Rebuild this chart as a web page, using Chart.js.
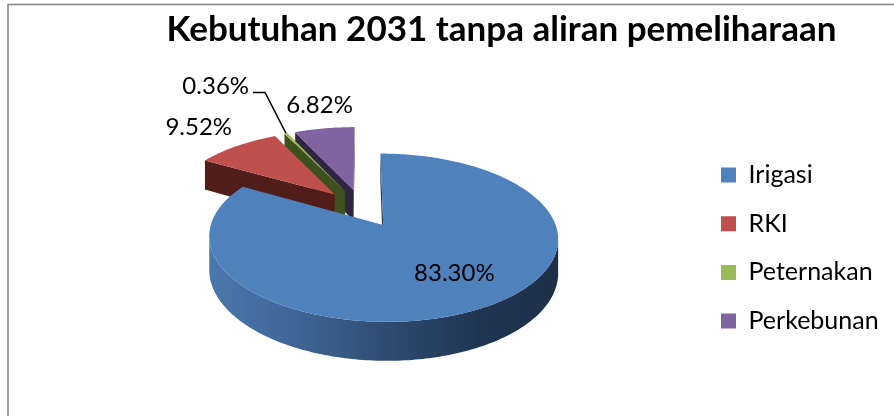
<!DOCTYPE html>
<html>
<head>
<meta charset="utf-8">
<script src="https://cdn.jsdelivr.net/npm/chart.js@4.4.1/dist/chart.umd.min.js"></script>
<style>
  html, body { margin: 0; padding: 0; background: #ffffff; }
  #wrap { width: 894px; height: 416px; position: relative; }
</style>
</head>
<body>
<div id="wrap"><canvas id="c"></canvas></div>
<script>
// ---- data ----
const chartTitle = 'Kebutuhan 2031 tanpa aliran pemeliharaan';
const categories = ['Irigasi', 'RKI', 'Peternakan', 'Perkebunan'];
const shares = [83.30, 9.52, 0.36, 6.82];

// ---- colours ----
const faceColors = ['#4F81BD', '#C0504D', '#9BBB59', '#8064A2'];
const sideColors = ['#1f3350', '#501d1b', '#3e501e', '#302641'];

// ---- 3D look of the pie ----
const TILT = 0.462;         // squash of the pie plane
const PERSPECTIVE = 1135;   // distance used for the perspective shrink
const THICKNESS = 32;       // height of the pie walls
const EXPLODE = 41;         // distance each slice is pulled out
const RADIUS = 167;

// ---- layout ----
const PIE_CENTER_X = 362;
const LEGEND_BOX_X = 721;
const LEGEND_FONT = 25;
const LEGEND_GAP = 23.7;
const VPAD = 58.7;

// label placement: rf = fraction of the radius along the slice middle, dx/dy = pixel nudge
const labelPlacement = [
  { rf: 0.62, dx: 11, dy: 0 },
  { rf: 1.45, dx: 0, dy: 0 },
  { leader: true, rf: 1.0, elbowDx: -21, elbowDy: -41, tail: 12 },
  { rf: 1.45, dx: 6, dy: 0 }
];

function project(cx, cy, u, v, down) {
  const s = PERSPECTIVE / (PERSPECTIVE + v);
  return [cx + u * s, cy + (-v * TILT + down) * s];
}

function signedArea(pts) {
  let a = 0;
  for (let i = 0; i < pts.length; i++) {
    const p = pts[i], q = pts[(i + 1) % pts.length];
    a += p[0] * q[1] - q[0] * p[1];
  }
  return a / 2;
}

function fillPoly(ctx, pts, style) {
  ctx.beginPath();
  ctx.moveTo(pts[0][0], pts[0][1]);
  for (let i = 1; i < pts.length; i++) ctx.lineTo(pts[i][0], pts[i][1]);
  ctx.closePath();
  ctx.fillStyle = style;
  ctx.fill();
}

const pie3d = {
  id: 'pie3d',
  beforeDraw(chart) {
    const ctx = chart.ctx;
    ctx.save();
    ctx.strokeStyle = '#888888';
    ctx.lineWidth = 1.6;
    ctx.strokeRect(8, 4.5, 1000, 1000);
    ctx.restore();
  },
  beforeDatasetsDraw(chart) {
    const ctx = chart.ctx;
    const arcs = chart.getDatasetMeta(0).data;
    const slices = arcs.map((arc, i) => {
      const p = arc.getProps(['x', 'y', 'startAngle', 'endAngle', 'outerRadius'], true);
      const off = arc.options.offset || 0;
      const mid = (p.startAngle + p.endAngle) / 2;
      return { i, x: p.x, y: p.y, a0: p.startAngle, a1: p.endAngle, R: p.outerRadius,
               mid, ou: off * Math.cos(mid), ov: -off * Math.sin(mid) };
    });
    const pt = (s, ang, r, down) =>
      project(s.x, s.y, s.ou + r * Math.cos(ang), s.ov - r * Math.sin(ang), down);

    // far slices first
    const order = slices.slice().sort((a, b) => b.ov - a.ov);
    ctx.save();
    order.forEach(s => {
      const n = Math.max(2, Math.ceil((s.a1 - s.a0) / (Math.PI / 180)));
      const angs = [];
      for (let k = 0; k <= n; k++) angs.push(s.a0 + (s.a1 - s.a0) * k / n);
      const top = angs.map(a => pt(s, a, s.R, 0));
      const bot = angs.map(a => pt(s, a, s.R, THICKNESS));

      // outer wall, only where it faces the viewer
      let wallStyle = sideColors[s.i];
      if (s.i === 0) {
        const l = pt(s, Math.PI, s.R, 0)[0], r = pt(s, 0, s.R, 0)[0];
        const g = ctx.createLinearGradient(l, 0, r, 0);
        g.addColorStop(0, '#4a78ae');
        g.addColorStop(0.27, '#3e6494');
        g.addColorStop(0.55, '#2c486c');
        g.addColorStop(0.78, '#203552');
        g.addColorStop(1, '#1e3049');
        wallStyle = g;
      }
      let run = [];
      const flush = () => {
        if (run.length) {
          const poly = run.map(k => top[k]).concat(run.slice().reverse().map(k => bot[k]));
          fillPoly(ctx, poly, wallStyle);
        }
        run = [];
      };
      for (let k = 0; k < n; k++) {
        const quad = [top[k], top[k + 1], bot[k + 1], bot[k]];
        if (signedArea(quad) < 0) {
          if (!run.length) run.push(k);
          run.push(k + 1);
        } else flush();
      }
      flush();

      // cut faces
      const cTop = pt(s, 0, 0, 0), cBot = pt(s, 0, 0, THICKNESS);
      const startFace = [cTop, top[0], bot[0], cBot];
      const endFace = [top[n], cTop, cBot, bot[n]];
      [startFace, endFace].forEach(face => {
        if (signedArea(face) < 0) fillPoly(ctx, face, sideColors[s.i]);
      });

      // top face
      fillPoly(ctx, [cTop].concat(top), faceColors[s.i]);
    });

    // value labels
    ctx.font = '24px Lato';
    ctx.fillStyle = '#000000';
    ctx.textBaseline = 'middle';
    slices.forEach(s => {
      const lp = labelPlacement[s.i];
      const text = shares[s.i].toFixed(2) + '%';
      const a = pt(s, s.mid, lp.rf * s.R, 0);
      if (lp.leader) {
        const elbow = [a[0] + lp.elbowDx, a[1] + lp.elbowDy];
        const end = [elbow[0] - lp.tail, elbow[1]];
        ctx.beginPath();
        ctx.moveTo(a[0], a[1]);
        ctx.lineTo(elbow[0], elbow[1]);
        ctx.lineTo(end[0], end[1]);
        ctx.strokeStyle = '#000000';
        ctx.lineWidth = 1.5;
        ctx.stroke();
        ctx.textAlign = 'right';
        ctx.fillText(text, end[0] - 4, end[1] - 6);
      } else {
        ctx.textAlign = 'center';
        ctx.fillText(text, a[0] + lp.dx, a[1] + lp.dy);
      }
    });
    ctx.restore();
    return false;
  },
  afterDraw(chart) {
    const ctx = chart.ctx;
    ctx.save();
    ctx.font = 'bold 35px Lato';
    ctx.fillStyle = '#000000';
    ctx.textAlign = 'center';
    ctx.textBaseline = 'alphabetic';
    ctx.fillText(chartTitle, 501.5, 41);
    ctx.restore();
  }
};

// size the side padding so the legend sits right of the pie and the pie keeps its centre
const measure = document.createElement('canvas').getContext('2d');
measure.font = LEGEND_FONT + 'px Lato';
const widestLabel = Math.max(...categories.map(c => measure.measureText(c).width));
const legendWidth = LEGEND_GAP + 15 + LEGEND_FONT / 2 + widestLabel + 10;
const legendLeft = LEGEND_BOX_X - LEGEND_GAP;
const padRight = Math.max(0, 894 - legendLeft - legendWidth);
const padLeft = 2 * PIE_CENTER_X - (894 - padRight - legendWidth);

new Chart(document.getElementById('c'), {
  type: 'pie',
  data: {
    labels: categories,
    datasets: [{
      data: shares,
      backgroundColor: faceColors,
      borderWidth: 0,
      offset: EXPLODE
    }]
  },
  options: {
    responsive: true,
    maintainAspectRatio: false,
    devicePixelRatio: 1,
    animation: false,
    events: [],
    radius: RADIUS,
    layout: { padding: { left: padLeft, right: padRight, top: VPAD, bottom: VPAD } },
    plugins: {
      title: { display: false },
      tooltip: { enabled: false },
      legend: {
        position: 'right',
        align: 'end',
        labels: {
          boxWidth: 15,
          boxHeight: 15,
          padding: LEGEND_GAP,
          color: '#000000',
          font: { family: 'Lato', size: LEGEND_FONT }
        }
      }
    }
  },
  plugins: [pie3d]
});
</script>
</body>
</html>
